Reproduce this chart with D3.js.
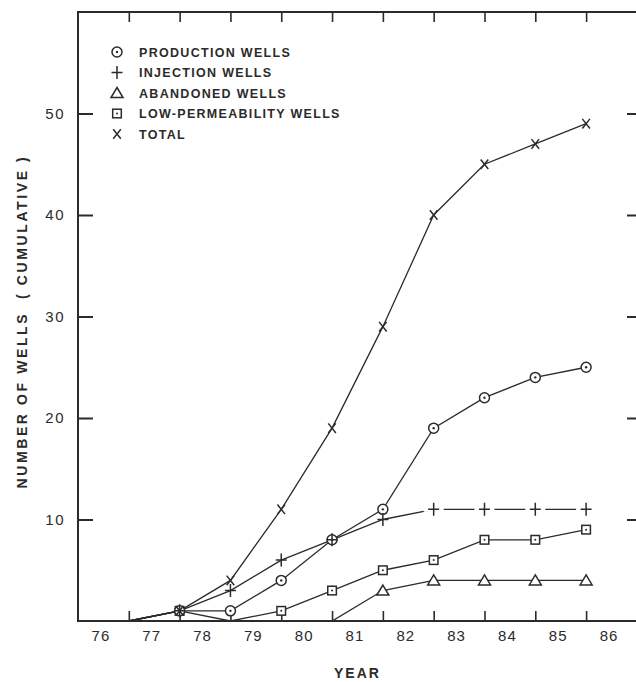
<!DOCTYPE html>
<html>
<head>
<meta charset="utf-8">
<script src="https://cdn.jsdelivr.net/npm/d3@7"></script>
<style>
  body { margin: 0; background: #fff; }
  svg { display: block; }
</style>
</head>
<body>
<div id="chart"></div>
<script>
////////////////////////////// DATA ////////////////////////////////////

// cumulative counts at mid-year positions
const years = [76.5, 77.5, 78.5, 79.5, 80.5, 81.5, 82.5, 83.5, 84.5, 85.5];
const production = [0, 1, 1, 4, 8, 11, 19, 22, 24, 25];
const injection = [0, 1, 3, 6, 8, 10, 11, 11, 11, 11];
const abandoned = [0, 0, 0, 0, 0, 3, 4, 4, 4, 4];
const lowPerm = [0, 1, 0, 1, 3, 5, 6, 8, 8, 9];
const total = [0, 1, 4, 11, 19, 29, 40, 45, 47, 49];

const yearLabels = [76, 77, 78, 79, 80, 81, 82, 83, 84, 85, 86];
const yTicks = [10, 20, 30, 40, 50];

const legendNames = [
  "PRODUCTION WELLS",
  "INJECTION WELLS",
  "ABANDONED WELLS",
  "LOW-PERMEABILITY WELLS",
  "TOTAL",
];
const legendSymbols = ["circle", "plus", "triangle", "square", "cross"];

////////////////////////////// SET UP ////////////////////////////////////

const width = 636;
const height = 682;
const ink = "#2b2b2b";
const font = "'Liberation Sans', Arial, sans-serif";

const svg = d3
  .select("#chart")
  .append("svg")
  .attr("width", width)
  .attr("height", height);

const x = d3.scaleLinear().domain([75.5, 86.6]).range([78, 642]);
const y = d3.scaleLinear().domain([0, 60]).range([621, 12]);

////////////////////////////// AXES ////////////////////////////////////

// left axis, ticks pointing in
svg
  .append("g")
  .attr("transform", `translate(${x(75.5)},0)`)
  .call(d3.axisLeft(y).tickValues(yTicks).tickSizeInner(-15).tickSizeOuter(0).tickPadding(13))
  .call((g) => g.select(".domain").remove())
  .call((g) => g.selectAll("line").attr("stroke", ink).attr("stroke-width", 2))
  .call((g) =>
    g
      .selectAll("text")
      .attr("fill", ink)
      .style("font-family", font)
      .style("font-size", "15px")
      .style("letter-spacing", "1.5px")
  );

// right axis
svg
  .append("g")
  .attr("transform", `translate(${x(86.6)},0)`)
  .call(d3.axisRight(y).tickValues(yTicks).tickSizeInner(-15).tickSizeOuter(0).tickFormat(""))
  .call((g) => g.select(".domain").remove())
  .call((g) => g.selectAll("line").attr("stroke", ink).attr("stroke-width", 2));

// bottom ticks between the year labels
svg
  .append("g")
  .attr("transform", `translate(0,${y(0)})`)
  .call(d3.axisBottom(x).tickValues(years).tickSizeInner(-10).tickSizeOuter(0).tickFormat(""))
  .call((g) => g.select(".domain").remove())
  .call((g) => g.selectAll("line").attr("stroke", ink).attr("stroke-width", 1.6));

// bottom year labels
svg
  .append("g")
  .attr("transform", `translate(-3,${y(0)})`)
  .call(d3.axisBottom(x).tickValues(yearLabels).tickSize(0).tickPadding(9).tickFormat((d) => d))
  .call((g) => g.select(".domain").remove())
  .call((g) =>
    g
      .selectAll("text")
      .attr("fill", ink)
      .style("font-family", font)
      .style("font-size", "15px")
      .style("letter-spacing", "1px")
  );

// top ticks
svg
  .append("g")
  .attr("transform", `translate(0,${y(60)})`)
  .call(d3.axisTop(x).tickValues(years).tickSizeInner(-10).tickSizeOuter(0).tickFormat(""))
  .call((g) => g.select(".domain").remove())
  .call((g) => g.selectAll("line").attr("stroke", ink).attr("stroke-width", 1.6));

// frame
svg
  .append("rect")
  .attr("x", x(75.5))
  .attr("y", y(60))
  .attr("width", x(86.6) - x(75.5))
  .attr("height", y(0) - y(60))
  .attr("fill", "none")
  .attr("stroke", ink)
  .attr("stroke-width", 2);

// axis titles
svg
  .append("text")
  .attr("x", x(81))
  .attr("y", 678)
  .attr("text-anchor", "middle")
  .attr("fill", ink)
  .style("font-family", font)
  .style("font-size", "14px")
  .style("font-weight", "bold")
  .style("letter-spacing", "2px")
  .text("YEAR");

svg
  .append("text")
  .attr("transform", `translate(27,${y(29.5)}) rotate(-90)`)
  .attr("text-anchor", "middle")
  .attr("fill", ink)
  .style("font-family", font)
  .style("font-size", "14px")
  .style("font-weight", "bold")
  .style("letter-spacing", "2.6px")
  .style("white-space", "pre")
  .text("NUMBER OF WELLS  ( CUMULATIVE )");

////////////////////////////// MARKERS ////////////////////////////////////

function drawSymbol(g, type, cx, cy) {
  const s = g.append("g").attr("transform", `translate(${cx},${cy})`);
  const st = (sel) => sel.attr("stroke", ink).attr("stroke-width", 1.5);
  if (type === "circle") {
    st(s.append("circle").attr("r", 5).attr("fill", "#fff"));
    s.append("circle").attr("r", 1.2).attr("fill", ink);
  } else if (type === "square") {
    st(s.append("rect").attr("x", -4.3).attr("y", -4.3).attr("width", 8.6).attr("height", 8.6).attr("fill", "#fff"));
    s.append("circle").attr("r", 1).attr("fill", ink);
  } else if (type === "triangle") {
    st(s.append("path").attr("d", "M0,-5.5L6,4.5L-6,4.5Z").attr("fill", "#fff"));
  } else if (type === "plus") {
    st(s.append("path").attr("d", "M-5.5,0H5.5M0,-6.5V6.5").attr("fill", "none"));
  } else if (type === "cross") {
    st(s.append("path").attr("d", "M-3.8,-4.8L3.8,4.8M3.8,-4.8L-3.8,4.8").attr("fill", "none"));
  }
}

////////////////////////////// SERIES ////////////////////////////////////

const series = [
  { values: lowPerm, symbol: "square" },
  { values: abandoned, symbol: "triangle" },
  { values: production, symbol: "circle" },
  { values: injection, symbol: "plus" },
  { values: total, symbol: "cross" },
];

const line = d3
  .line()
  .x((d) => x(d[0]))
  .y((d) => y(d[1]));

series.forEach((s) => {
  const pts = years.map((yr, i) => [yr, s.values[i]]);
  svg
    .append("path")
    .attr("d", line(pts))
    .attr("fill", "none")
    .attr("stroke", ink)
    .attr("stroke-width", 1.3);
});

series.forEach((s) => {
  const g = svg.append("g");
  years.forEach((yr, i) => {
    const v = s.values[i];
    if (v === 0) return;
    // plus markers on the flat run sit in a small gap of the line
    if (s.symbol === "plus" && (s.values[i - 1] === v || s.values[i + 1] === v)) {
      g.append("rect")
        .attr("x", x(yr) - 10)
        .attr("y", y(v) - 2.5)
        .attr("width", 20)
        .attr("height", 5)
        .attr("fill", "#fff");
    }
    drawSymbol(g, s.symbol, x(yr), y(v));
  });
});

////////////////////////////// LEGEND ////////////////////////////////////

const legend = svg.append("g");
legendNames.forEach((name, i) => {
  const ly = 52 + i * 20.5;
  drawSymbol(legend, legendSymbols[i], 117, ly);
  legend
    .append("text")
    .attr("x", 139)
    .attr("y", ly)
    .attr("dy", "0.36em")
    .attr("fill", ink)
    .style("font-family", font)
    .style("font-size", "12.5px")
    .style("font-weight", "bold")
    .style("letter-spacing", "1.3px")
    .text(name);
});
</script>
</body>
</html>
